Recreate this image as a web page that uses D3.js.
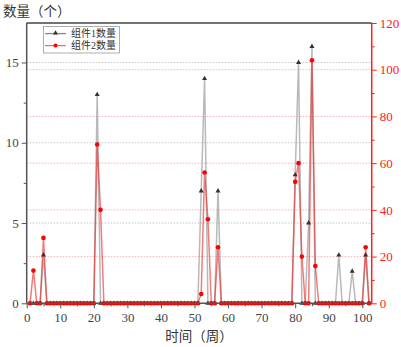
<!DOCTYPE html>
<html><head><meta charset="utf-8">
<script src="https://cdn.jsdelivr.net/npm/d3@7"></script>
<style>body{margin:0;background:#fff}svg{display:block}</style>
</head><body>
<svg id="c" width="401" height="347"></svg>
<script>
// weeks 1..102
const weeks = d3.range(1, 103);
const series1Name = "组件1数量";
const series2Name = "组件2数量";
// non-zero values of component 1 (left axis), keyed by week
const s1Weeks  = [5, 21, 52, 53, 57, 80, 81, 84, 85, 93, 97, 101];
const s1Values = [3, 13, 7, 14, 7, 8, 15, 5, 16, 3, 2, 3];
// non-zero values of component 2 (right axis)
const s2Weeks  = [2, 5, 21, 22, 52, 53, 54, 57, 80, 81, 82, 85, 86, 101];
const s2Values = [14, 28, 68, 40, 4, 56, 36, 24, 52, 60, 20, 104, 16, 24];
const xTicks = [0,10,20,30,40,50,60,70,80,90,100];
const yLeftTicks = [0,5,10,15];
const yRightTicks = [0,20,40,60,80,100,120];
const yLabel = "数量（个）";
const xLabel = "时间（周）";

const s1 = weeks.map(w => { const i = s1Weeks.indexOf(w); return {w, v: i >= 0 ? s1Values[i] : 0}; });
const s2 = weeks.map(w => { const i = s2Weeks.indexOf(w); return {w, v: i >= 0 ? s2Values[i] : 0}; });

const L = 26.7, R = 371.7, T = 23, B = 303.3;
const x = d3.scaleLinear().domain([0, 102.8]).range([L, R]);
const yL = d3.scaleLinear().domain([0, 17.46]).range([B, T]);
const yR = d3.scaleLinear().domain([0, 120]).range([B, T]);

const svg = d3.select("#c");
const serif = "'Liberation Serif','Times New Roman',serif";
const cjk = "'Noto Sans CJK SC','Noto Sans CJK JP',sans-serif";
const legFont = "'Liberation Serif','Noto Sans CJK SC',serif";
const axC = "#555", red = "#ff2020";

// grid lines
svg.append("g").selectAll("line").data([5,10,15]).join("line")
  .attr("x1", L).attr("x2", R).attr("y1", d => yL(d)).attr("y2", d => yL(d))
  .attr("stroke", "#b8b8b8").attr("stroke-width", 0.8).attr("stroke-dasharray", "1.5,1.5");
svg.append("g").selectAll("line").data([20,40,60,80,100]).join("line")
  .attr("x1", L).attr("x2", R).attr("y1", d => yR(d)).attr("y2", d => yR(d))
  .attr("stroke", "#f2a0a0").attr("stroke-width", 0.8).attr("stroke-dasharray", "1.5,1.5");

// lines
const line1 = d3.line().x(d => x(d.w)).y(d => yL(d.v));
const line2 = d3.line().x(d => x(d.w)).y(d => yR(d.v));
svg.append("path").datum(s1).attr("d", line1).attr("fill", "none")
  .attr("stroke", "#a8a8a8").attr("stroke-opacity", 0.8).attr("stroke-width", 1.5);
svg.append("path").datum(s2).attr("d", line2).attr("fill", "none")
  .attr("stroke", "#ee2222").attr("stroke-opacity", 0.6).attr("stroke-width", 1.5);

// markers
const tri = d3.symbol().type(d3.symbolTriangle).size(11);
svg.append("g").selectAll("path").data(s1).join("path")
  .attr("d", tri).attr("transform", d => `translate(${x(d.w)},${yL(d.v)})`)
  .attr("fill", "#333");
svg.append("g").selectAll("circle").data(s2).join("circle")
  .attr("cx", d => x(d.w)).attr("cy", d => yR(d.v)).attr("r", 2.3)
  .attr("fill", "#ff0000");

// axes
function style(g, col, labels) {
  g.select(".domain").attr("stroke", col).attr("stroke-width", 1.5);
  g.selectAll(".tick line").attr("stroke", col).attr("stroke-width", 1);
  g.selectAll("text").attr("fill", labels).style("font-family", serif).style("font-size", "13px");
}
const gx = svg.append("g").attr("transform", `translate(0,${B})`)
  .call(d3.axisBottom(x).tickValues(xTicks).tickSize(5).tickPadding(4).tickFormat(d3.format("d")));
const gxm = svg.append("g").attr("transform", `translate(0,${B})`)
  .call(d3.axisBottom(x).tickValues(d3.range(5,101,10)).tickSize(3).tickFormat(""));
gxm.select(".domain").remove();
const gl = svg.append("g").attr("transform", `translate(${L},0)`)
  .call(d3.axisLeft(yL).tickValues(yLeftTicks).tickSize(5).tickPadding(3));
const glm = svg.append("g").attr("transform", `translate(${L},0)`)
  .call(d3.axisLeft(yL).tickValues([2.5,7.5,12.5]).tickSize(3).tickFormat(""));
glm.select(".domain").remove();
const gr = svg.append("g").attr("transform", `translate(${R},0)`)
  .call(d3.axisRight(yR).tickValues(yRightTicks).tickSize(5).tickPadding(3));
const grm = svg.append("g").attr("transform", `translate(${R},0)`)
  .call(d3.axisRight(yR).tickValues([10,30,50,70,90,110]).tickSize(3).tickFormat(""));
grm.select(".domain").remove();

style(gx, axC, "#444"); style(gxm, axC, "#444");
style(gl, axC, "#444"); style(glm, axC, "#444");
style(gr, red, red); style(grm, red, red);
gx.select(".domain").attr("d", `M${L},0H${R}`);
gl.select(".domain").attr("d", `M0,${B}V${T}`);
gr.select(".domain").attr("d", `M0,${B}V${T}`);

// top frame
svg.append("line").attr("x1", L).attr("x2", R).attr("y1", T).attr("y2", T)
  .attr("stroke", "#444").attr("stroke-width", 1.5);

// titles
svg.append("text").attr("x", 3).attr("y", 16).text(yLabel)
  .attr("fill", "#333").style("font-family", cjk).style("font-size", "13.5px");
svg.append("text").attr("x", 199).attr("y", 341).attr("text-anchor", "middle").text(xLabel)
  .attr("fill", "#333").style("font-family", cjk).style("font-size", "13.5px");

// legend
const lg = svg.append("g");
lg.append("rect").attr("x", 43.5).attr("y", 26.5).attr("width", 76).attr("height", 26.5)
  .attr("fill", "#fff").attr("stroke", "#999").attr("stroke-width", 0.8);
const items = [
  {name: series1Name, color: "#888", marker: "tri", y: 33.6},
  {name: series2Name, color: "#f07070", marker: "dot", y: 45.6}
];
items.forEach(it => {
  lg.append("line").attr("x1", 45).attr("x2", 66).attr("y1", it.y).attr("y2", it.y)
    .attr("stroke", it.color).attr("stroke-width", 1.3);
  if (it.marker === "tri") lg.append("path").attr("d", tri).attr("transform", `translate(55.5,${it.y-0.5})`).attr("fill", "#333");
  else lg.append("circle").attr("cx", 55.5).attr("cy", it.y).attr("r", 2).attr("fill", "#ff0000");
  lg.append("text").attr("x", 71).attr("y", it.y).attr("dy", "0.35em").text(it.name)
    .attr("fill", "#333").style("font-family", legFont).style("font-size", "10px");
});
</script>
</body></html>
